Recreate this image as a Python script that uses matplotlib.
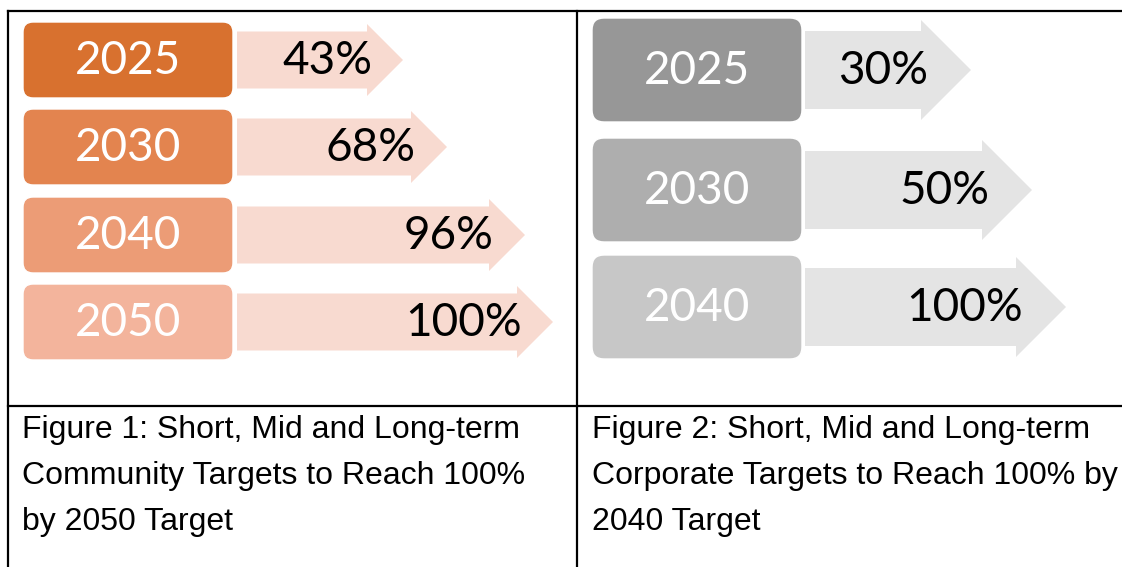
import matplotlib
matplotlib.use('Agg')
import matplotlib.pyplot as plt
from matplotlib.patches import FancyBboxPatch, Polygon

# data
left_years = ['2025', '2030', '2040', '2050']
left_pct = [43, 68, 96, 100]
right_years = ['2025', '2030', '2040']
right_pct = [30, 50, 100]
left_caption = ['Figure 1: Short, Mid and Long-term',
                'Community Targets to Reach 100%',
                'by 2050 Target']
right_caption = ['Figure 2: Short, Mid and Long-term',
                 'Corporate Targets to Reach 100% by',
                 '2040 Target']

# layout (pixels)
left_box_colors = ['#D8712F', '#E3844F', '#EC9C76', '#F3B49C']
left_arrow_color = '#F8DAD0'
right_box_colors = ['#979797', '#AEAEAE', '#C7C7C7']
right_arrow_color = '#E4E4E4'
left_centers = [60, 147, 235, 322]
left_tips = [403, 447, 525, 553]
right_centers = [70, 190, 307]
right_tips = [971, 1032, 1066]

W, H = 1122, 567
fig = plt.figure(figsize=(W / 100, H / 100), dpi=100)
ax = fig.add_axes([0, 0, 1, 1])
ax.set_xlim(0, W)
ax.set_ylim(H, 0)
ax.axis('off')

num_font = 'Lato'


def arrow(x0, tip, yc, body_h, head_h, head_len, color):
    pts = [(x0, yc - body_h), (tip - head_len, yc - body_h), (tip - head_len, yc - head_h),
           (tip, yc), (tip - head_len, yc + head_h), (tip - head_len, yc + body_h),
           (x0, yc + body_h)]
    ax.add_patch(Polygon(pts, closed=True, facecolor=color, edgecolor='none'))


# left panel
for yr, p, c, yc, tip in zip(left_years, left_pct, left_box_colors, left_centers, left_tips):
    ax.add_patch(FancyBboxPatch((23 + 10, yc - 38 + 10), 210 - 20, 76 - 20,
                                boxstyle='round,pad=10', facecolor=c, edgecolor='white', lw=1))
    ax.text(128, yc + 1, yr, color='white', fontsize=33, family=num_font,
            ha='center', va='center')
    arrow(237, tip, yc, 28.5, 36, 36, left_arrow_color)
    ax.text(tip - 31, yc + 1, f'{p}%', color='black', fontsize=33, family=num_font,
            ha='right', va='center')

# right panel
for yr, p, c, yc, tip in zip(right_years, right_pct, right_box_colors, right_centers, right_tips):
    ax.add_patch(FancyBboxPatch((592 + 12, yc - 52 + 12), 210 - 24, 104 - 24,
                                boxstyle='round,pad=12', facecolor=c, edgecolor='white', lw=1))
    ax.text(697, yc + 1, yr, color='white', fontsize=33, family=num_font,
            ha='center', va='center')
    arrow(805, tip, yc, 39, 50, 50, right_arrow_color)
    ax.text(tip - 43, yc + 1, f'{p}%', color='black', fontsize=33, family=num_font,
            ha='right', va='center')

# table lines
lw = 1.6
ax.plot([8, W], [11, 11], color='black', lw=lw)
ax.plot([8, 8], [11, H], color='black', lw=lw)
ax.plot([577, 577], [11, H], color='black', lw=lw)
ax.plot([8, W], [406, 406], color='black', lw=lw)

# captions
for i, (a, b) in enumerate(zip(left_caption, right_caption)):
    y = 438 + 46 * i
    ax.text(22, y, a, fontsize=23, family='Liberation Sans', color='black', va='baseline')
    ax.text(592, y, b, fontsize=23, family='Liberation Sans', color='black', va='baseline')

fig.savefig('out.png', dpi=100)
